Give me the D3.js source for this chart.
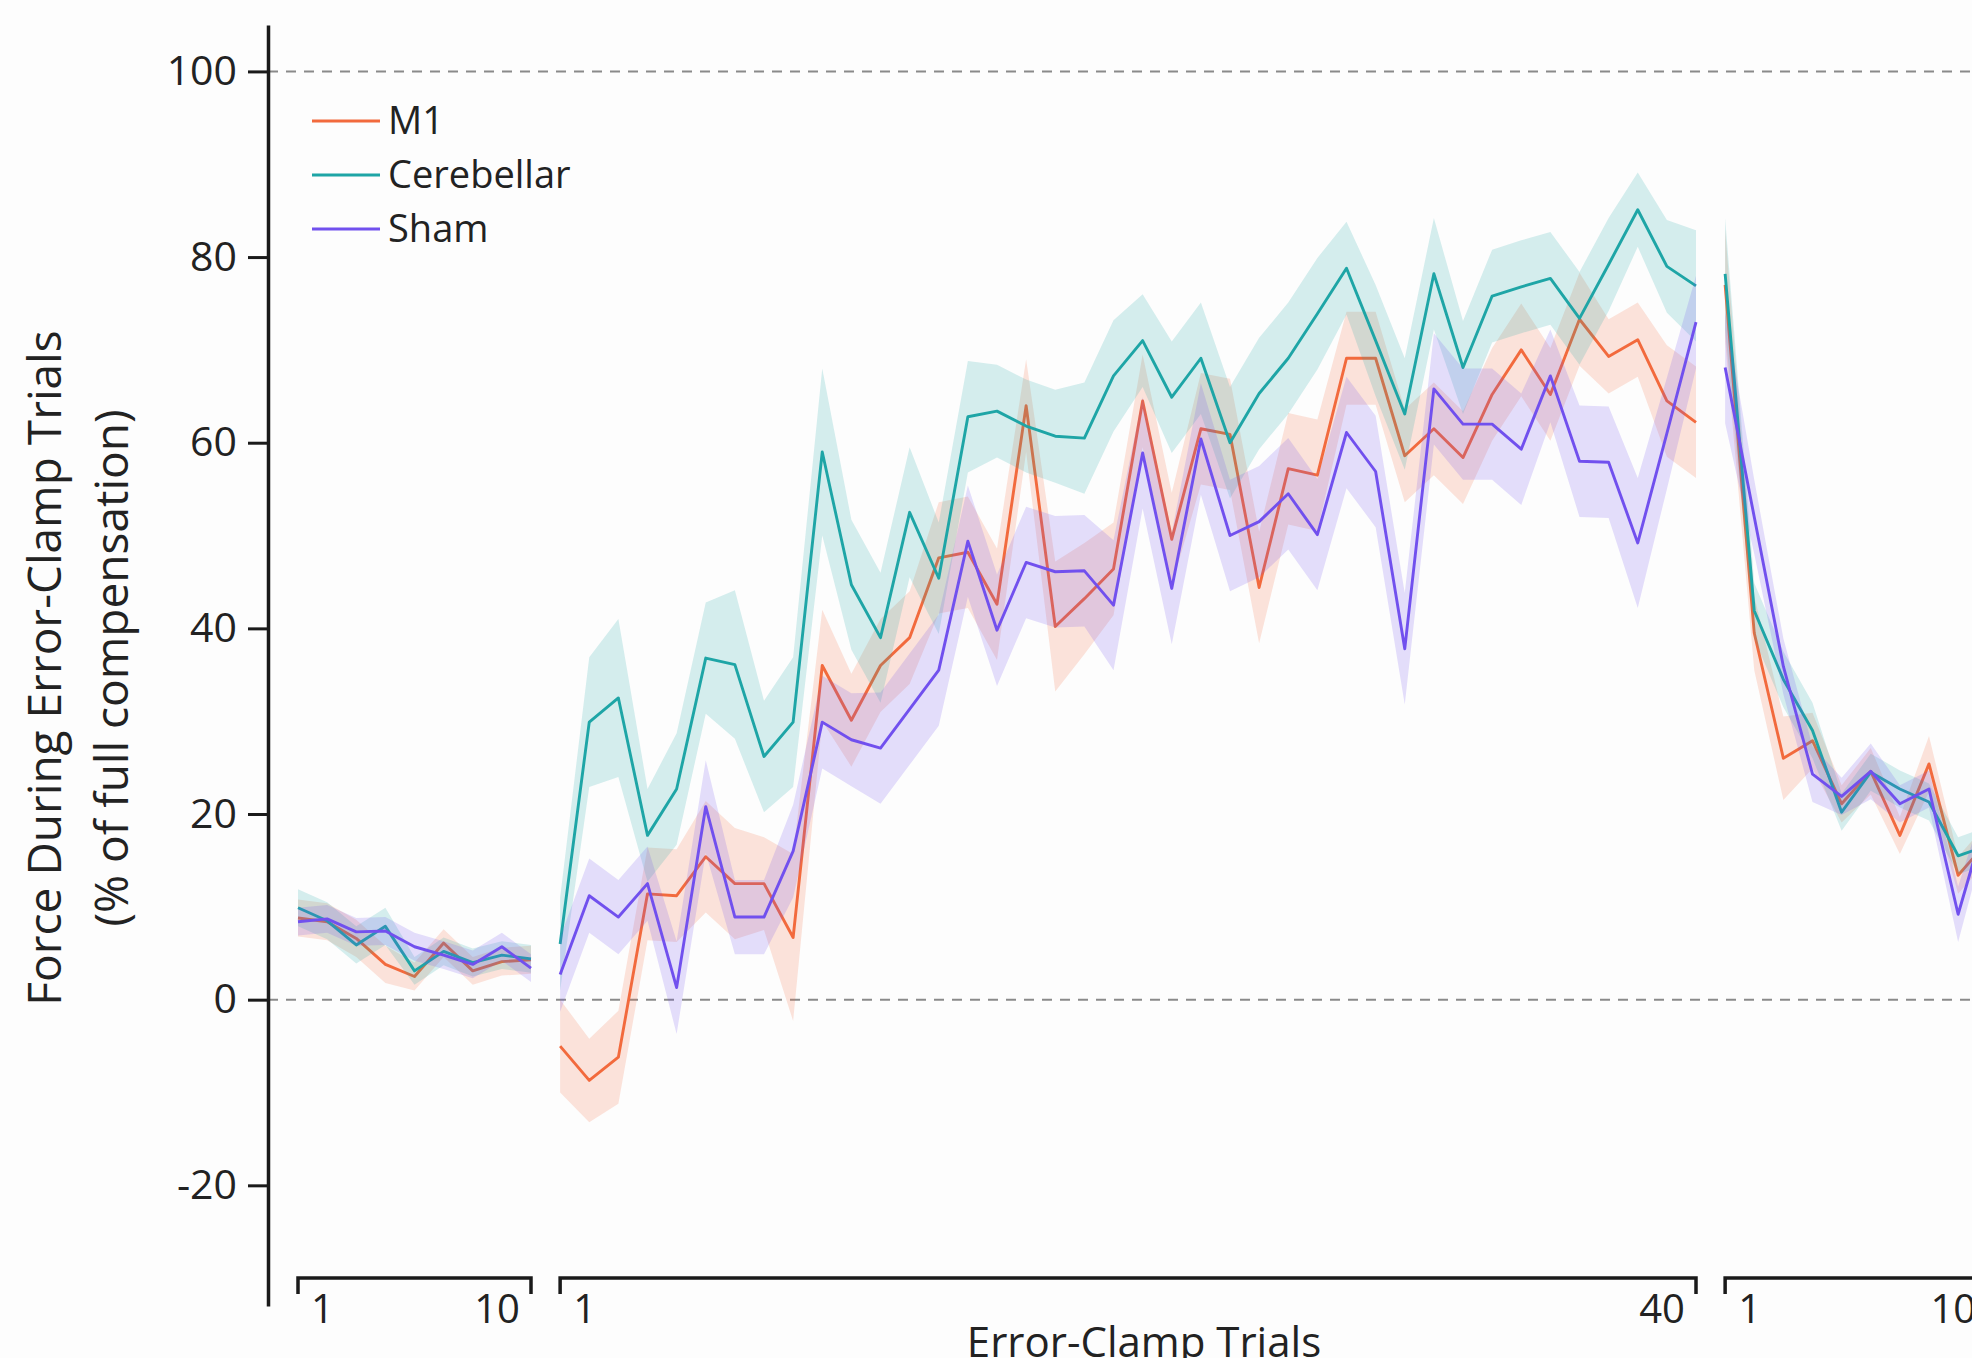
<!DOCTYPE html>
<html lang="en">
<head>
  <meta charset="UTF-8">
  <title>Force During Error-Clamp Trials</title>
  <script src="https://cdn.jsdelivr.net/npm/d3@7"></script>
  <style>
    body {
      margin: 0;
      background: #fdfdfd;
      font-family: 'Open Sans', sans-serif;
    }
    svg {
      display: block;
    }
  </style>
</head>
<body>
  <svg id="chart"></svg>
  <script>
    // groups and colours
    const groups = ['M1', 'Cerebellar', 'Sham'];
    const colors = ['#f26a3d', '#1ea5a6', '#7150ee'];

    // block tick labels (first / last trial of each error-clamp block)
    const blockLabels = [['1', '10'], ['1', '40'], ['1', '10']];

    // baseline error-clamp block
    const m1Baseline = [8.8, 8.4, 6.6, 3.8, 2.5, 6.1, 3.1, 4.1, 4.3];
    const cbBaseline = [9.9, 8.5, 5.9, 7.9, 3.1, 5.2, 4.0, 4.8, 4.4];
    const shBaseline = [8.4, 8.7, 7.3, 7.4, 5.7, 4.8, 3.8, 5.7, 3.4];
    const m1BaselineSe = [2, 2, 2, 2, 1.5, 1.5, 1.5, 1.5, 1.5];
    const cbBaselineSe = [2, 2, 2, 2, 1.5, 1.5, 1.5, 1.5, 1.5];
    const shBaselineSe = [1.5, 1.5, 1.5, 1.5, 1.5, 1.5, 1.5, 1.5, 1.5];

    // learning block
    const m1Learning = [-5.0, -8.7, -6.2, 11.4, 11.2, 15.4, 12.5, 12.5, 6.7, 36.0,
      30.1, 36.0, 39.0, 47.6, 48.2, 42.6, 64.0, 40.2, 43.2, 46.4,
      64.5, 49.6, 61.5, 60.9, 44.4, 57.2, 56.5, 69.1, 69.1, 58.6,
      61.5, 58.4, 65.2, 70.0, 65.2, 73.3, 69.3, 71.1, 64.5, 62.2];
    const cbLearning = [6.0, 29.9, 32.5, 17.7, 22.7, 36.8, 36.1, 26.2, 29.9, 59.0,
      44.7, 39.0, 52.5, 45.4, 62.8, 63.4, 61.8, 60.7, 60.5, 67.2,
      71.0, 64.9, 69.1, 60.0, 65.3, 69.1, 73.9, 78.8, 71.0, 63.1,
      78.2, 68.1, 75.8, 76.8, 77.7, 73.4, 79.2, 85.1, 79.0, 76.9];
    const shLearning = [2.7, 11.2, 8.9, 12.5, 1.3, 20.8, 8.9, 8.9, 16.0, 29.9,
      28.0, 27.1, 31.3, 35.5, 49.4, 39.8, 47.1, 46.1, 46.2, 42.5,
      58.9, 44.3, 60.4, 50.0, 51.5, 54.5, 50.1, 61.1, 56.9, 37.8,
      65.8, 62.0, 62.0, 59.3, 67.2, 58.0, 57.9, 49.2, 61.0, 73.0];
    const m1LearningSe = [5, 4.5, 5, 5, 5, 6, 6, 5, 9, 6, 5, 5, 5, 6, 6, 6, 5, 7, 6, 5,
      5, 5, 6, 6, 6, 6, 6, 5, 5, 5, 5, 5, 5, 5, 5, 5, 4, 4, 6, 6];
    const cbLearningSe = [5, 7, 8.5, 5, 6, 6, 8, 6, 7, 9, 7, 7, 7, 6, 6, 5, 5, 5, 6, 6,
      5, 6, 6, 6, 6, 6, 6, 5, 6, 6, 6, 5, 5, 5, 5, 5, 5, 4, 5, 6];
    const shLearningSe = [4, 4, 4, 4, 5, 5, 4, 4, 5, 5, 5, 6, 6, 6, 6, 6, 6, 6, 6, 7,
      6, 6, 6, 6, 6, 6, 6, 6, 6, 6, 6, 6, 6, 6, 5, 6, 6, 7, 6, 5];

    // washout block
    const m1Washout = [77.0, 39.5, 26.0, 27.9, 21.1, 24.6, 17.7, 25.4, 13.4, 17.0];
    const cbWashout = [78.2, 41.9, 34.5, 29.0, 20.2, 24.5, 22.7, 21.3, 15.5, 16.6];
    const shWashout = [68.1, 52.0, 35.9, 24.3, 21.9, 24.6, 21.1, 22.7, 9.2, 20.0];
    const m1WashoutSe = [6, 4, 4.5, 3, 2, 2.5, 2, 3, 2, 2];
    const cbWashoutSe = [6, 3, 3, 3, 2, 2, 2, 2, 2, 2];
    const shWashoutSe = [6, 4, 3, 3, 2, 3, 2, 2, 3, 2];

    const width = 1972;
    const height = 1358;

    const blockMeans = [
      [m1Baseline, m1Learning, m1Washout],
      [cbBaseline, cbLearning, cbWashout],
      [shBaseline, shLearning, shWashout]
    ];
    const blockSe = [
      [m1BaselineSe, m1LearningSe, m1WashoutSe],
      [cbBaselineSe, cbLearningSe, cbWashoutSe],
      [shBaselineSe, shLearningSe, shWashoutSe]
    ];

    // running trial index across blocks
    const blockStart = [];
    let idx = 0;
    blockMeans[0].forEach(b => {
      blockStart.push(idx);
      idx += b.length;
    });

    const x = d3.scaleLinear().domain([0, 48]).range([298, 1696]);
    const y = d3.scaleLinear().domain([-33, 105]).range([1306, 25]);

    const svg = d3.select('#chart')
      .attr('width', width)
      .attr('height', height)
      .attr('viewBox', [0, 0, width, height]);

    // reference lines at 0 and 100
    svg.append('g')
      .selectAll('line')
      .data([0, 100])
      .join('line')
      .attr('x1', x.range()[0] - 30)
      .attr('x2', width)
      .attr('y1', d => y(d))
      .attr('y2', d => y(d))
      .attr('stroke', '#8a8a8a')
      .attr('stroke-width', 2)
      .attr('stroke-dasharray', '10,8');

    const area = d3.area()
      .x(d => x(d.i))
      .y0(d => y(d.m - d.s))
      .y1(d => y(d.m + d.s));

    const line = d3.line()
      .x(d => x(d.i))
      .y(d => y(d.m));

    groups.forEach((g, gi) => {
      const layer = svg.append('g').attr('class', 'group-' + gi);
      blockMeans[gi].forEach((means, bi) => {
        const rows = means.map((m, k) => ({ i: blockStart[bi] + k, m: m, s: blockSe[gi][bi][k] }));
        layer.append('path')
          .attr('d', area(rows))
          .attr('fill', colors[gi])
          .attr('fill-opacity', 0.18);
        layer.append('path')
          .attr('d', line(rows))
          .attr('fill', 'none')
          .attr('stroke', colors[gi])
          .attr('stroke-width', 2.9)
          .attr('stroke-linejoin', 'round');
      });
    });

    // y axis
    const yAxis = svg.append('g')
      .attr('transform', 'translate(268,0)')
      .call(d3.axisLeft(y)
        .tickValues([-20, 0, 20, 40, 60, 80, 100])
        .tickFormat(d => String(d))
        .tickSize(20)
        .tickSizeOuter(0)
        .tickPadding(11));
    yAxis.select('.domain').attr('stroke', '#1a1a1a').attr('stroke-width', 3.5);
    yAxis.selectAll('.tick line').attr('stroke', '#1a1a1a').attr('stroke-width', 3);
    yAxis.selectAll('.tick text')
      .attr('font-family', "'Open Sans', sans-serif")
      .attr('font-size', 41)
      .attr('fill', '#222');

    // block brackets along the bottom
    const bracketY = 1278;
    const brackets = svg.append('g');
    blockMeans[0].forEach((means, bi) => {
      const x0 = x(blockStart[bi]);
      const x1 = x(blockStart[bi] + means.length - 1);
      brackets.append('path')
        .attr('d', `M${x0},${bracketY + 16}V${bracketY}H${x1}V${bracketY + 16}`)
        .attr('fill', 'none')
        .attr('stroke', '#1a1a1a')
        .attr('stroke-width', 3.5);
      brackets.append('text')
        .attr('x', x0 + 13)
        .attr('y', bracketY + 45)
        .attr('font-size', 40)
        .attr('fill', '#222')
        .text(blockLabels[bi][0]);
      brackets.append('text')
        .attr('x', x1 - 11)
        .attr('y', bracketY + 45)
        .attr('text-anchor', 'end')
        .attr('font-size', 40)
        .attr('fill', '#222')
        .text(blockLabels[bi][1]);
    });

    // axis titles
    svg.append('text')
      .attr('x', 1144)
      .attr('y', 1357)
      .attr('text-anchor', 'middle')
      .attr('font-size', 42)
      .attr('fill', '#222')
      .text('Error-Clamp Trials');

    const yTitle = svg.append('text')
      .attr('transform', 'translate(0,668) rotate(-90)')
      .attr('text-anchor', 'middle')
      .attr('font-size', 46)
      .attr('fill', '#222');
    yTitle.append('tspan').attr('x', 0).attr('y', 61).text('Force During Error-Clamp Trials');
    yTitle.append('tspan').attr('x', 0).attr('y', 128).text('(% of full compensation)');

    // legend
    const legend = svg.append('g')
      .selectAll('g')
      .data(groups)
      .join('g')
      .attr('transform', (d, i) => `translate(312,${121 + i * 54})`);
    legend.append('line')
      .attr('x1', 0)
      .attr('x2', 68)
      .attr('stroke', (d, i) => colors[i])
      .attr('stroke-width', 2.9);
    legend.append('text')
      .attr('x', 76)
      .attr('dy', '0.35em')
      .attr('font-size', 38)
      .attr('fill', '#222')
      .text(d => d);
  </script>
</body>
</html>
